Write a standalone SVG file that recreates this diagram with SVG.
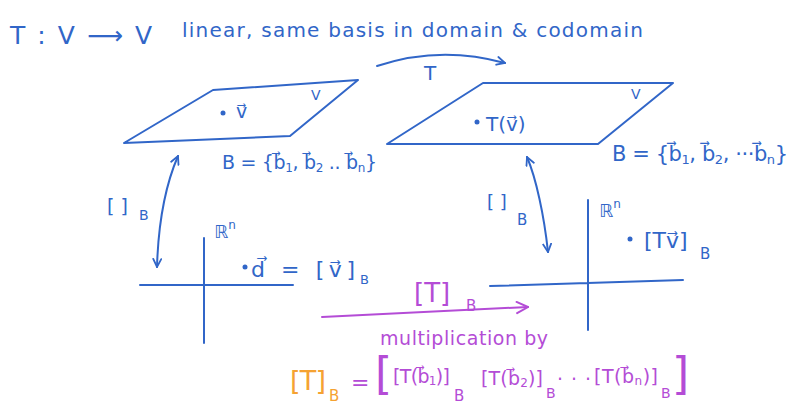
<svg xmlns="http://www.w3.org/2000/svg" width="792" height="406" viewBox="0 0 792 406">
<style>
text{font-family:"DejaVu Sans","Liberation Sans",sans-serif;}
.b{fill:#3166c8;}
.p{fill:#b44cd6;}
.o{fill:#f5a232;}
.ln{fill:none;stroke:#3166c8;stroke-width:2;stroke-linecap:round;stroke-linejoin:round;}
.lp{fill:none;stroke:#b44cd6;stroke-width:2;stroke-linecap:round;}
</style>
<defs>
<marker id="ab" viewBox="0 0 10 10" refX="9" refY="5" markerWidth="10" markerHeight="10" markerUnits="userSpaceOnUse" orient="auto-start-reverse">
<path d="M1,1 L9,5 L1,9" fill="none" stroke="#3166c8" stroke-width="1.8" stroke-linecap="round"/>
</marker>
<marker id="ap" viewBox="0 0 10 10" refX="9" refY="5" markerWidth="14" markerHeight="14" markerUnits="userSpaceOnUse" orient="auto">
<path d="M1,1 L9,5 L1,9" fill="none" stroke="#b44cd6" stroke-width="1.4" stroke-linecap="round"/>
</marker>
</defs>
<rect width="792" height="406" fill="#ffffff"/>

<g id="title">
<text class="b" x="10" y="44" font-size="25" textLength="142" lengthAdjust="spacing">T : V ⟶ V</text>
<text class="b" x="182" y="37" font-size="20" textLength="461" lengthAdjust="spacing">linear, same basis in domain &amp; codomain</text>
</g>

<g id="domain">
<path class="ln" d="M213,90 L358,80 L290,136 L124,143 Z"/>
<circle class="b" cx="223" cy="113" r="2.5"/>
<text class="b" x="236" y="118" font-size="19">v⃗</text>
<text class="b" x="311" y="100" font-size="14">V</text>
<text class="b" x="222" y="169" font-size="19" textLength="155" lengthAdjust="spacing">B = {b⃗<tspan font-size="12" dy="3">1</tspan><tspan dy="-3">, b⃗</tspan><tspan font-size="12" dy="3">2</tspan><tspan dy="-3"> .. b⃗</tspan><tspan font-size="12" dy="3">n</tspan><tspan dy="-3">}</tspan></text>
</g>

<g id="codomain">
<path class="ln" d="M483,83 L673,83 L598,144 L387,144 Z"/>
<circle class="b" cx="477" cy="122" r="2.5"/>
<text class="b" x="486" y="131" font-size="20">T(v⃗)</text>
<text class="b" x="631" y="99" font-size="14">V</text>
<text class="b" x="612" y="161" font-size="21" textLength="176" lengthAdjust="spacing">B = {b⃗<tspan font-size="13" dy="3">1</tspan><tspan dy="-3">, b⃗</tspan><tspan font-size="13" dy="3">2</tspan><tspan dy="-3">, ···b⃗</tspan><tspan font-size="13" dy="3">n</tspan><tspan dy="-3">}</tspan></text>
</g>

<g id="rn-left">
<path class="ln" d="M140,285 L293,285 M204,238 L204,343"/>
<text class="b" x="214" y="238" font-size="18">ℝ<tspan font-size="12" dy="-9">n</tspan></text>
<circle class="b" cx="245" cy="267" r="2.5"/>
<text class="b" x="251" y="277" font-size="22" textLength="104" lengthAdjust="spacing">d⃗ = [v⃗]</text>
<text class="b" x="360" y="284" font-size="13">B</text>
</g>

<g id="rn-right">
<path class="ln" d="M490,286 L683,280 M588,200 L588,330"/>
<text class="b" x="599" y="217" font-size="18">ℝ<tspan font-size="12" dy="-9">n</tspan></text>
<circle class="b" cx="630" cy="239" r="2.5"/>
<text class="b" x="644" y="248" font-size="22">[Tv⃗]</text>
<text class="b" x="700" y="259" font-size="15">B</text>
</g>

<g id="formula">
<text class="o" x="290" y="390" font-size="27" textLength="36" lengthAdjust="spacing">[T]</text>
<text class="o" x="329" y="401" font-size="15">B</text>
<text class="p" x="351" y="390" font-size="22">=</text>
<text class="p" x="375" y="389" font-size="44">[</text>
<text class="p" x="393" y="383" font-size="19" textLength="57" lengthAdjust="spacing">[T(b⃗<tspan font-size="12" dy="2">1</tspan><tspan dy="-2">)]</tspan></text>
<text class="p" x="454" y="401" font-size="15">B</text>
<text class="p" x="481" y="385" font-size="19" textLength="62" lengthAdjust="spacing">[T(b⃗<tspan font-size="12" dy="2">2</tspan><tspan dy="-2">)]</tspan></text>
<text class="p" x="546" y="398" font-size="14">B</text>
<text class="p" x="557" y="386" font-size="19" textLength="34" lengthAdjust="spacing">· · ·</text>
<text class="p" x="594" y="383" font-size="19" textLength="64" lengthAdjust="spacing">[T(b⃗<tspan font-size="12" dy="2">n</tspan><tspan dy="-2">)]</tspan></text>
<text class="p" x="661" y="398" font-size="14">B</text>
<text class="p" x="672" y="389" font-size="44">]</text>
</g>

<g id="connectors">
<path class="ln" d="M377,66 Q440,45 505,63" marker-end="url(#ab)"/>
<text class="b" x="424" y="80" font-size="20">T</text>
<path class="ln" d="M178,156 Q159,200 157,267" marker-start="url(#ab)" marker-end="url(#ab)"/>
<text class="b" x="107" y="213" font-size="19">[ ]</text>
<text class="b" x="139" y="220" font-size="14">B</text>
<path class="ln" d="M527,157 C536,178 544,215 548,252" marker-start="url(#ab)" marker-end="url(#ab)"/>
<text class="b" x="487" y="208" font-size="18">[ ]</text>
<text class="b" x="517" y="225" font-size="15">B</text>
<path class="lp" d="M322,317 L528,307" marker-end="url(#ap)"/>
<text class="p" x="414" y="302" font-size="26">[T]</text>
<text class="p" x="466" y="311" font-size="15">B</text>
<text class="p" x="380" y="345" font-size="19" textLength="168" lengthAdjust="spacing">multiplication by</text>
</g>
</svg>
